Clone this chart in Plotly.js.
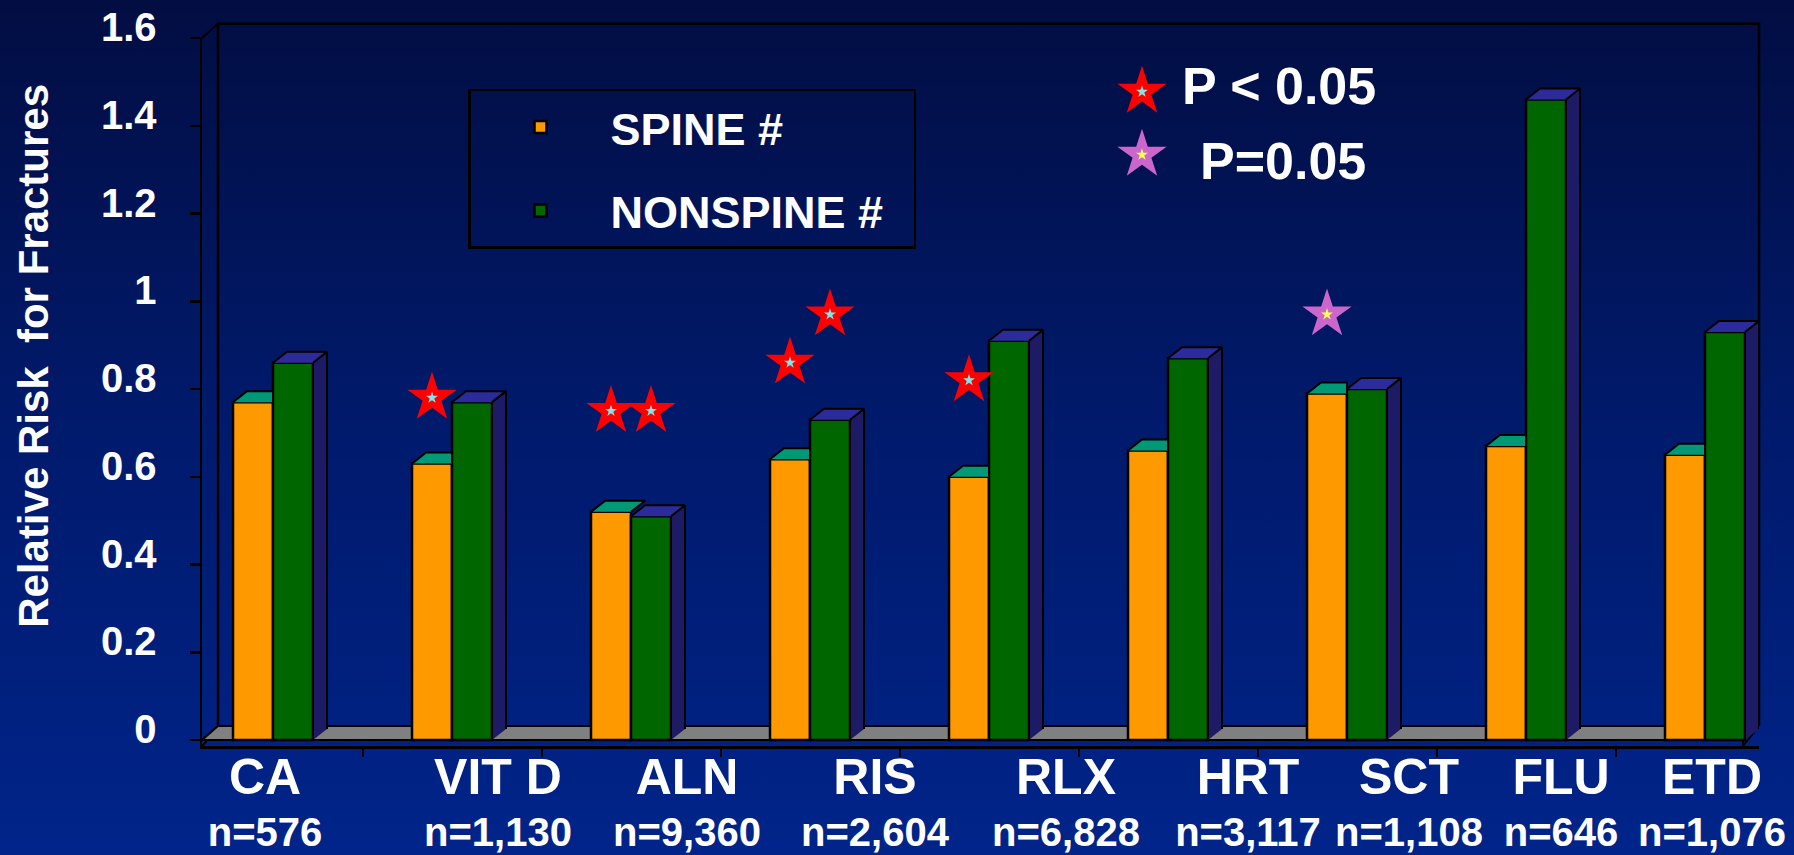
<!DOCTYPE html>
<html><head><meta charset="utf-8">
<script src="https://cdn.plot.ly/plotly-3.0.1.min.js"></script>
<style>
html,body{margin:0;padding:0;width:1794px;height:855px;overflow:hidden;
background:linear-gradient(to bottom,#020d42 0%,#001a6c 50%,#00248a 100%);}
#chart{width:1794px;height:855px;}
</style></head><body><div id="chart"></div>
<script>
// ---- data ----
const categories = ['CA','VIT D','ALN','RIS','RLX','HRT','SCT','FLU','ETD'];
const sampleSizes = [576,1130,9360,2604,6828,3117,1108,646,1076];
const spineRR = [0.77,0.63,0.52,0.64,0.60,0.66,0.79,0.67,0.65];
const nonspineRR = [0.86,0.77,0.51,0.73,0.91,0.87,0.80,1.46,0.93];
// significance stars (p < 0.05)
const sigCats = ['VIT D','ALN','ALN','RIS','RIS','RLX'];
const sigSeries = ['spine','spine','nonspine','spine','nonspine','spine'];
const sigY = [0.78,0.75,0.75,0.86,0.97,0.82];
// borderline stars (p = 0.05)
const bordCats = ['SCT'];
const bordSeries = ['spine'];
const bordY = [0.97];
const yTickVals = [0,0.2,0.4,0.6,0.8,1,1.2,1.4,1.6];
const yTickText = ['0','0.2','0.4','0.6','0.8','1','1.2','1.4','1.6'];
const yTitle = 'Relative Risk  for Fractures';

// ---- layout geometry (styling, not data) ----
const W=1794,H=855, PL=202, PR=1759, PT=38.3, PB=746;
const catStep=179, firstCenter=273, zeroPx=740;
const labelShiftPx=[-8,46,56,65,77,80,62,35,7];   // category label offsets
const pxY=(zeroPx-PT)/1.6;
const xRange=[(PL-firstCenter)/catStep,(PR-firstCenter)/catStep];
const yRange=[-(PB-zeroPx)/pxY,1.6];
const bw=40/catStep;
const dx=14/catStep, dy=11/pxY;        // bar depth
const wdx=16/catStep, wdy=14/pxY;      // wall depth
const px2x=p=>(p-PL)/(PR-PL), py2y=p=>(PB-p)/(PB-PT);
const idx=categories.map((c,i)=>i);
const FONT='Liberation Sans, Arial, Helvetica, sans-serif';

// 3D faces
const oTopX=[],oTopY=[],gTopX=[],gTopY=[],gSideX=[],gSideY=[];
idx.forEach(i=>{
  const x0=i-bw,x1=i,x2=i+bw,o=spineRR[i],g=nonspineRR[i];
  if(g>=o){oTopX.push(x0,x0+dx,x1,x1,null);oTopY.push(o,o+dy,o+dy,o,null);}
  else{oTopX.push(x0,x0+dx,x1+dx,x1,null);oTopY.push(o,o+dy,o+dy,o,null);}
  gTopX.push(x1,x1+dx,x2+dx,x2,null);gTopY.push(g,g+dy,g+dy,g,null);
  gSideX.push(x2,x2,x2+dx,x2+dx,null);gSideY.push(0,g,g+dy,dy,null);
});
const starX=(c,s)=>categories.indexOf(c)+(s==='spine'?-bw/2:bw/2);

const face=(x,y,col)=>({type:'scatter',mode:'lines',x,y,fill:'toself',fillcolor:col,
  line:{color:'#000',width:2},hoverinfo:'skip',showlegend:false});
const stars=(x,y,col,size)=>({type:'scatter',mode:'markers',x,y,cliponaxis:false,
  marker:{symbol:'star',size,color:col,line:{width:0}},hoverinfo:'skip',showlegend:false});

const sx=sigCats.map((c,k)=>starX(c,sigSeries[k]));
const bx=bordCats.map((c,k)=>starX(c,bordSeries[k]));

const traces=[
  {type:'bar',name:'SPINE #',legendgroup:'a',x:idx,y:spineRR,width:bw,offset:-bw,
   marker:{color:'#FF9900',line:{color:'#000',width:2.5}}},
  {type:'bar',name:'NONSPINE #\u00a0\u00a0',legendgroup:'b',x:idx,y:nonspineRR,width:bw,offset:0,
   marker:{color:'#006600',line:{color:'#000',width:2.5}}},
  face(oTopX,oTopY,'#009977'),
  face(gSideX,gSideY,'#1E1B66'),
  face(gTopX,gTopY,'#2B2B9B'),
  stars(sx,sigY,'#FF0000',37), stars(sx,sigY,'#80E6E6',9),
  stars(bx,bordY,'#CC66CC',37), stars(bx,bordY,'#FFFF55',9),
  // key glyphs for the star legend
  Object.assign(stars([px2x(1142)],[py2y(92)],'#FF0000',37),{xaxis:'x2',yaxis:'y2'}),
  Object.assign(stars([px2x(1142)],[py2y(92)],'#80E6E6',9),{xaxis:'x2',yaxis:'y2'}),
  Object.assign(stars([px2x(1142)],[py2y(155)],'#CC66CC',37),{xaxis:'x2',yaxis:'y2'}),
  Object.assign(stars([px2x(1142)],[py2y(155)],'#FFFF55',9),{xaxis:'x2',yaxis:'y2'})
];

const xL=xRange[0], xRf=(PR-wdx*catStep-firstCenter)/catStep;
const shapes=[
  {type:'path',xref:'paper',yref:'paper',layer:'below',
   path:`M${px2x(218)},${py2y(726)} L${px2x(218)},${py2y(24)} L${px2x(PR)},${py2y(24)} L${px2x(PR)},${py2y(726)}`,
   line:{color:'#000',width:2.5}},
  {type:'path',xref:'paper',yref:'paper',layer:'below',
   path:`M${px2x(PL)},${py2y(PT)} L${px2x(218)},${py2y(24)} M${px2x(PL)},${py2y(740)} L${px2x(218)},${py2y(726)} M${px2x(PL)},${py2y(PB)} L${px2x(218)},${py2y(728)}`,
   line:{color:'#000',width:2}},
  {type:'path',xref:'x',yref:'y',layer:'below',
   path:`M${xL},0 L${xRf},0 L${xRf+wdx},${wdy} L${xL+wdx},${wdy} Z`,
   fillcolor:'#808080',line:{color:'#000',width:2}},
  {type:'path',xref:'x',yref:'y',layer:'below',
   path:`M${xRf},${yRange[0]} L${xRf},0 M${xRf},${yRange[0]} L${xRf+wdx},${wdy}`,
   line:{color:'#000',width:2}}
];

const layout={
  width:W,height:H,paper_bgcolor:'rgba(0,0,0,0)',plot_bgcolor:'rgba(0,0,0,0)',
  margin:{l:PL,r:W-PR,t:PT,b:H-PB,pad:0},
  barmode:'overlay',
  font:{family:FONT,color:'#fff',weight:700},
  xaxis:{range:xRange,showgrid:false,zeroline:false,showline:true,linecolor:'#000',linewidth:2.5,
    tickmode:'array',tickvals:idx.map(i=>i+labelShiftPx[i]/catStep),
    ticktext:categories.map((c,i)=>`<span style="font-size:50px">${c}</span><br>n=${sampleSizes[i].toLocaleString('en-US')}`),
    ticks:'',ticklabelstandoff:-3,ticklabeloverflow:'allow',
    tickfont:{family:FONT,size:40,color:'#fff',weight:700},
    minor:{tickmode:'array',tickvals:idx.slice(0,-1).map(i=>i+0.5),ticks:'outside',ticklen:8,tickwidth:2,tickcolor:'#000',showgrid:false},
    fixedrange:true},
  yaxis:{range:yRange,showgrid:false,zeroline:false,showline:true,linecolor:'#000',linewidth:2.5,
    tickmode:'array',tickvals:yTickVals,ticktext:yTickText,ticks:'outside',ticklen:10,tickwidth:2.5,tickcolor:'#000',
    ticklabelshift:-11,ticklabelstandoff:25,
    tickfont:{family:FONT,size:40,color:'#fff',weight:700},
    fixedrange:true},
  xaxis2:{overlaying:'x',anchor:'y2',range:[0,1],visible:false,fixedrange:true},
  yaxis2:{overlaying:'y',anchor:'x2',range:[0,1],visible:false,fixedrange:true},
  legend:{x:px2x(468),y:py2y(89),xanchor:'left',yanchor:'top',bgcolor:'rgba(0,0,0,0)',
    bordercolor:'#000',borderwidth:2.5,font:{family:FONT,size:45,color:'#fff',weight:700},
    itemwidth:130,tracegroupgap:22,traceorder:'grouped'},
  annotations:[
    {xref:'paper',yref:'paper',x:px2x(34),y:py2y(356),xanchor:'center',yanchor:'middle',showarrow:false,
     textangle:-90,text:yTitle,font:{family:FONT,size:42,color:'#fff',weight:700}},
    {xref:'paper',yref:'paper',x:px2x(1180),y:py2y(86),xanchor:'left',yanchor:'middle',showarrow:false,
     text:'P &lt; 0.05',font:{family:FONT,size:52,color:'#fff',weight:700}},
    {xref:'paper',yref:'paper',x:px2x(1198),y:py2y(161),xanchor:'left',yanchor:'middle',showarrow:false,
     text:'P=0.05',font:{family:FONT,size:52,color:'#fff',weight:700}}
  ],
  shapes,
  showlegend:true
};
Plotly.newPlot('chart',traces,layout,{staticPlot:true,displayModeBar:false});
</script></body></html>
